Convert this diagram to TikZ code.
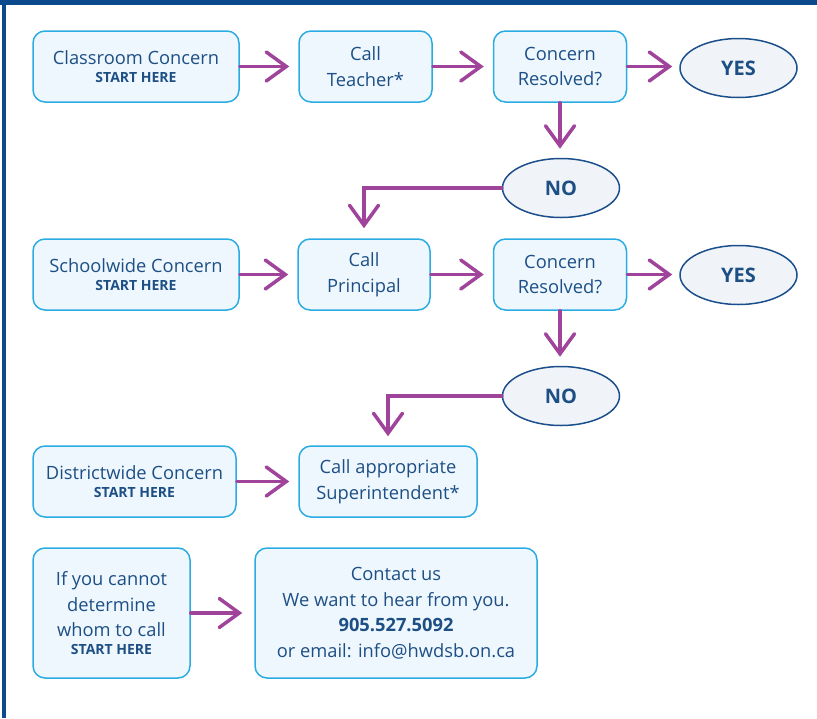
\documentclass[tikz,border=0pt]{standalone}
\usepackage{fontspec}
\setmainfont{Open Sans}
\usetikzlibrary{arrows.meta,shapes.geometric}
\definecolor{frameblue}{HTML}{0D4A8D}
\definecolor{boxline}{HTML}{2AACE2}
\definecolor{boxfill}{HTML}{EEF7FD}
\definecolor{txtblue}{HTML}{1D4F85}
\definecolor{ellline}{HTML}{1B4F8C}
\definecolor{ellfill}{HTML}{F0F4F8}
\definecolor{arrpurple}{HTML}{A0449B}
\newcommand{\sthere}{{\fontsize{14}{16}\selectfont\bfseries START HERE}}
\tikzset{
  stepbox/.style={draw=boxline, line width=1.5pt, fill=boxfill, rounded corners=12pt,
    align=center, text=txtblue, inner sep=0pt, font=\fontsize{18.3}{25.5}\selectfont},
  answer/.style={ellipse, draw=ellline, line width=1.5pt, fill=ellfill, inner sep=0pt,
    minimum width=117pt, minimum height=59pt, text=txtblue, font=\fontsize{20}{22}\selectfont\bfseries},
  arr/.style={draw=arrpurple, line width=3.5pt, line cap=round,
    -{Straight Barb[length=20pt,width=29pt,line cap=round]}}
}
\begin{document}
\begin{tikzpicture}[x=1pt,y=-1pt]
\useasboundingbox (0,0) rectangle (817,718);
\draw[frameblue, line width=5pt] (0,2.5) -- (817,2.5);
\draw[frameblue, line width=4pt] (3.5,0) -- (3.5,718);

% row 1
\node[stepbox, minimum width=206pt, minimum height=71pt] (cc) at (136,66.5) {Classroom Concern\\[-8pt]\sthere};
\node[stepbox, minimum width=133pt, minimum height=71pt] (ct) at (365.5,66.5) {Call\\Teacher*};
\node[stepbox, minimum width=133pt, minimum height=71pt] (r1) at (560,66.5) {Concern\\Resolved?};
\node[answer] (y1) at (738.5,68) {YES};
\node[answer] (n1) at (561,188) {NO};

% row 2
\node[stepbox, minimum width=206pt, minimum height=71pt] (sc) at (136,274.5) {Schoolwide Concern\\[-8pt]\sthere};
\node[stepbox, minimum width=132pt, minimum height=71pt] (cp) at (364,274.5) {Call\\Principal};
\node[stepbox, minimum width=133pt, minimum height=71pt] (r2) at (560,274.5) {Concern\\Resolved?};
\node[answer] (y2) at (738.5,275) {YES};
\node[answer] (n2) at (561,396) {NO};

% row 3
\node[stepbox, minimum width=203pt, minimum height=71pt] (dc) at (134.5,481.5) {Districtwide Concern\\[-8pt]\sthere};
\node[stepbox, minimum width=178pt, minimum height=71pt] (cs) at (388,481.5) {Call appropriate\\Superintendent*};

% row 4
\node[stepbox, minimum width=157pt, minimum height=130pt] (iy) at (111.5,613) {If you cannot\\determine\\whom to call\\[-8pt]\sthere};
\node[stepbox, minimum width=282pt, minimum height=130pt] (cu) at (396,613) {Contact us\\We want to hear from you.\\\textbf{905.527.5092}\\or email: info@hwdsb.on.ca};

% connectors
\draw[arr, shorten >=9pt] (cc.east) -- (ct.west);
\draw[arr, shorten >=9pt] (ct.east) -- (r1.west);
\draw[arr, shorten >=7pt] (r1.east) -- (y1.west |- r1.east);
\draw[arr, shorten >=9pt] (r1.south) -- (r1.south |- n1.north);
\draw[arr, shorten >=10pt] (n1.west) -| (cp.north);

\draw[arr, shorten >=9pt] (sc.east) -- (cp.west);
\draw[arr, shorten >=9pt] (cp.east) -- (r2.west);
\draw[arr, shorten >=7pt] (r2.east) -- (y2.west |- r2.east);
\draw[arr, shorten >=9pt] (r2.south) -- (r2.south |- n2.north);
\draw[arr, shorten >=9pt] (n2.west) -| (cs.north);

\draw[arr, shorten >=9pt] (dc.east) -- (cs.west);
\draw[arr, shorten >=12pt] (iy.east) -- (cu.west);
\end{tikzpicture}
\end{document}
